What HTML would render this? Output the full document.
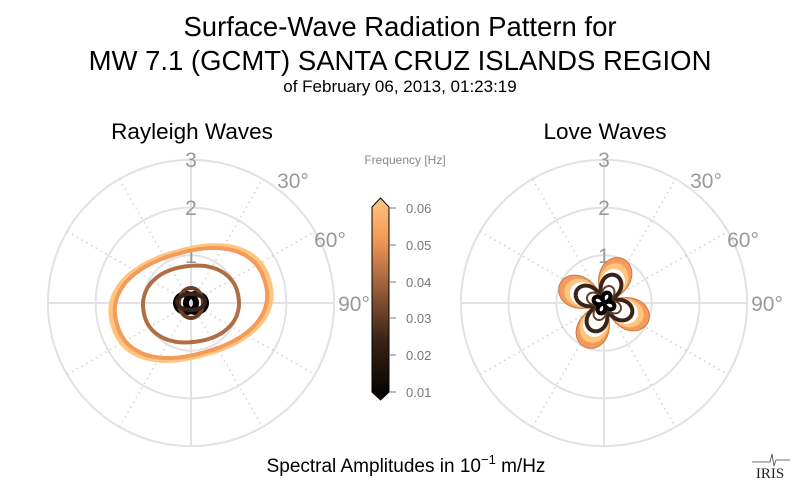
<!DOCTYPE html><html><head><meta charset="utf-8"><style>
body{margin:0;background:#fff;width:800px;height:493px;overflow:hidden;font-family:"Liberation Sans",sans-serif}
</style></head><body>
<svg id="s" width="800" height="493" xmlns="http://www.w3.org/2000/svg" font-family="Liberation Sans, sans-serif">
<defs><linearGradient id="cb" x1="0" y1="1" x2="0" y2="0">
<stop offset="0" stop-color="#000"/><stop offset="0.3" stop-color="#3a2417"/><stop offset="0.6" stop-color="#a8683f"/><stop offset="0.8" stop-color="#f59a5a"/><stop offset="1" stop-color="#fec57e"/></linearGradient></defs>
<text x="400" y="36" font-size="27.5" text-anchor="middle">Surface-Wave Radiation Pattern for</text>
<text x="400" y="70" font-size="27.5" text-anchor="middle">MW 7.1 (GCMT) SANTA CRUZ ISLANDS REGION</text>
<text x="400" y="92" font-size="17" text-anchor="middle">of February 06, 2013, 01:23:19</text>
<text x="192" y="139" font-size="22.5" text-anchor="middle">Rayleigh Waves</text>
<text x="605" y="139" font-size="22.5" text-anchor="middle">Love Waves</text>
<g id="g"></g>
<text x="405" y="164" font-size="12" fill="#888" text-anchor="middle">Frequency [Hz]</text>
<path d="M372 207 L380.5 198 L389 207 L389 392 L380.5 400 L372 392 Z" fill="url(#cb)" stroke="#000" stroke-width="1"/>
<g font-size="13" fill="#777" stroke="#777">
<line x1="389" y1="208" x2="396" y2="208"/><text x="406" y="213" stroke="none">0.06</text>
<line x1="389" y1="245" x2="396" y2="245"/><text x="406" y="250" stroke="none">0.05</text>
<line x1="389" y1="282" x2="396" y2="282"/><text x="406" y="287" stroke="none">0.04</text>
<line x1="389" y1="318" x2="396" y2="318"/><text x="406" y="323" stroke="none">0.03</text>
<line x1="389" y1="355" x2="396" y2="355"/><text x="406" y="360" stroke="none">0.02</text>
<line x1="389" y1="392" x2="396" y2="392"/><text x="406" y="397" stroke="none">0.01</text>
</g>
<text x="406" y="472" font-size="19" text-anchor="middle">Spectral Amplitudes in 10<tspan dy="-8" font-size="13">−1</tspan><tspan dy="8"> m/Hz</tspan></text>
<text x="770" y="478" font-size="15" font-family="Liberation Serif, serif" text-anchor="middle" fill="#222">IRIS</text>
<path d="M752 462 H770 l2 -8 l2 12 l2 -6 H790" stroke="#444" fill="none" stroke-width="0.8"/>
</svg>
<script>
var g=document.getElementById('g'),h='';
function grid(cx,cy){
 var R=47.7;
 for(var k=1;k<=3;k++)h+='<circle cx="'+cx+'" cy="'+cy+'" r="'+(R*k)+'" fill="none" stroke="#e2e2e2" stroke-width="2"/>';
 h+='<line x1="'+(cx-143)+'" y1="'+cy+'" x2="'+(cx+143)+'" y2="'+cy+'" stroke="#e2e2e2" stroke-width="2"/>';
 h+='<line x1="'+cx+'" y1="'+(cy-143)+'" x2="'+cx+'" y2="'+(cy+143)+'" stroke="#e2e2e2" stroke-width="2"/>';
 [30,60,120,150].forEach(function(a){var t=a*Math.PI/180;h+='<line x1="'+(cx-143*Math.sin(t))+'" y1="'+(cy+143*Math.cos(t))+'" x2="'+(cx+143*Math.sin(t))+'" y2="'+(cy-143*Math.cos(t))+'" stroke="#d4d4d4" stroke-width="1.6" stroke-dasharray="1.5,4"/>';});
 h+='<g font-size="21" fill="#999" text-anchor="middle"><text x="'+cx+'" y="'+(cy-136)+'">3</text><text x="'+cx+'" y="'+(cy-88)+'">2</text><text x="'+cx+'" y="'+(cy-40)+'">1</text>';
 h+='<text x="'+(cx+102)+'" y="'+(cy-115)+'">30°</text><text x="'+(cx+139)+'" y="'+(cy-56)+'">60°</text><text x="'+(cx+163)+'" y="'+(cy+8)+'">90°</text></g>';
}
grid(191,303);grid(604,303);
function blob(cx,cy,a,b,rot,p,col,w){
 var d='',r=rot*Math.PI/180;
 for(var i=0;i<=120;i++){var t=i/120*2*Math.PI,c=Math.cos(t),s=Math.sin(t);
  var x=a*Math.sign(c)*Math.pow(Math.abs(c),2/p),y=b*Math.sign(s)*Math.pow(Math.abs(s),2/p);
  var X=cx+x*Math.cos(r)-y*Math.sin(r),Y=cy+x*Math.sin(r)+y*Math.cos(r);
  d+=(i?'L':'M')+X.toFixed(1)+' '+Y.toFixed(1);}
 h+='<path d="'+d+'Z" fill="none" stroke="'+col+'" stroke-width="'+w+'"/>';
}
blob(191,303,81,53,-16,2.3,'#fec57e',5);
blob(191,303,77,51,-16,2.3,'#f59a5a',4);
blob(191,304,48,38,-8,2.2,'#b06f42',4);
blob(186,303,10,9,0,2,'#000',6);
blob(196,303,10,9,0,2,'#000',6);
blob(191,303,12,15,0,2,'#6a3f25',4);
blob(191,302,14,8,0,2,'#3a2417',4);
function rose(A,fill,stroke,sw){
 var d='',cx=604,cy=303;
 for(var i=0;i<=360;i++){var t=i*Math.PI/180,r=A*Math.pow(Math.abs(Math.cos(2*(t-0.40))),0.6);
  d+=(i?'L':'M')+(cx+r*Math.sin(t)).toFixed(1)+' '+(cy-r*Math.cos(t)).toFixed(1);}
 h+='<path d="'+d+'Z" fill="'+fill+'" stroke="'+stroke+'" stroke-width="'+sw+'"/>';
}
rose(48,'#f59a5a','#c77a44',1);
rose(42,'#fec57e','none',0);
rose(36,'#fff','none',0);
rose(30,'#fff','#3a2417',4);
rose(18,'#fff','#6a3f25',2);
rose(11,'#fff','#000',4);
g.innerHTML=h;
</script>
</body></html>
